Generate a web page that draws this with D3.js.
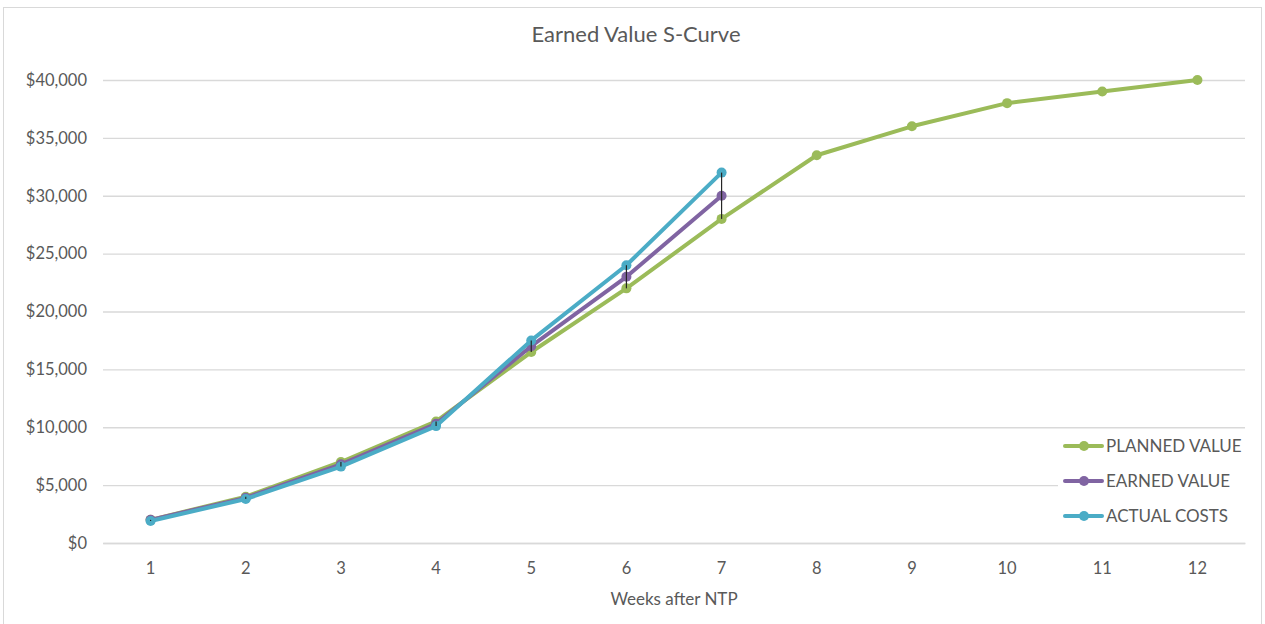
<!DOCTYPE html>
<html>
<head>
<meta charset="utf-8">
<script src="https://cdn.jsdelivr.net/npm/d3@7"></script>
<style>
  body { margin: 0; background: #fff; }
  text { font-family: Lato, "Open Sans", sans-serif; }
</style>
</head>
<body>
<div id="chart"></div>
<script>
// chart data
var weeks = [1, 2, 3, 4, 5, 6, 7, 8, 9, 10, 11, 12];
var plannedValue = [2000, 4000, 7000, 10500, 16500, 22000, 28000, 33500, 36000, 38000, 39000, 40000];
var earnedValue = [2000, 3900, 6800, 10300, 17000, 23000, 30000];
var actualCosts = [1900, 3800, 6600, 10100, 17500, 24000, 32000];
var yTicks = [0, 5000, 10000, 15000, 20000, 25000, 30000, 35000, 40000];
var seriesNames = ["PLANNED VALUE", "EARNED VALUE", "ACTUAL COSTS"];

var svgWidth = 1265;
var svgHeight = 624;
var plotLeft = 103, plotRight = 1245, plotTop = 80, plotBottom = 543;

var svg = d3.select("#chart")
  .append("svg")
  .attr("width", svgWidth)
  .attr("height", svgHeight);

// chart frame
svg.append("rect")
  .attr("x", 3.5)
  .attr("y", 7.5)
  .attr("width", 1258)
  .attr("height", 640)
  .attr("fill", "#fff")
  .attr("stroke", "#d9d9d9");

svg.append("text")
  .attr("x", 636)
  .attr("y", 42)
  .style("text-anchor", "middle")
  .style("font-size", "22px")
  .style("fill", "#595959")
  .text("Earned Value S-Curve");

var xscale = d3.scaleBand().domain(weeks).range([plotLeft, plotRight]);
var yscale = d3.scaleLinear().domain([0, 40000]).range([plotBottom, plotTop]);

var xpos = function (w) { return xscale(w) + xscale.bandwidth() / 2; };

// gridlines + y axis
var yaxis = d3.axisLeft(yscale)
  .tickValues(yTicks)
  .tickSize(-(plotRight - plotLeft))
  .tickPadding(16)
  .tickFormat(function (d) { return "$" + d3.format(",")(d); });

var gy = svg.append("g")
  .attr("transform", "translate(" + plotLeft + ",0)")
  .call(yaxis);
gy.select(".domain").remove();
gy.selectAll("line").attr("stroke", "#d9d9d9").attr("stroke-width", 1.3);
gy.selectAll("text")
  .style("font-size", "16.5px")
  .style("fill", "#595959")
  .style("font-family", "Lato, sans-serif");

// x axis
var xaxis = d3.axisBottom(xscale).tickSize(0).tickPadding(19);
var gx = svg.append("g")
  .attr("transform", "translate(0," + plotBottom + ")")
  .call(xaxis);
gx.select(".domain").attr("stroke", "#d9d9d9").attr("stroke-width", 1.3);
gx.selectAll("text")
  .style("font-size", "16.5px")
  .style("fill", "#595959")
  .style("font-family", "Lato, sans-serif");

svg.append("text")
  .attr("x", (plotLeft + plotRight) / 2)
  .attr("y", 605)
  .style("text-anchor", "middle")
  .style("font-size", "17px")
  .style("fill", "#595959")
  .text("Weeks after NTP");

var series = [
  { name: seriesNames[0], values: plannedValue, color: "#9bbb59" },
  { name: seriesNames[1], values: earnedValue, color: "#8064a2" },
  { name: seriesNames[2], values: actualCosts, color: "#4bacc6" }
];

var line = d3.line()
  .x(function (d, i) { return xpos(weeks[i]); })
  .y(function (d) { return yscale(d); });

series.forEach(function (s) {
  var g = svg.append("g");
  g.append("path")
    .attr("d", line(s.values))
    .attr("fill", "none")
    .attr("stroke", s.color)
    .attr("stroke-width", 4)
    .attr("stroke-linejoin", "round");
  g.selectAll("circle")
    .data(s.values)
    .enter()
    .append("circle")
    .attr("cx", function (d, i) { return xpos(weeks[i]); })
    .attr("cy", function (d) { return yscale(d); })
    .attr("r", 5)
    .attr("fill", s.color);
});

// high-low lines
var hilo = weeks.map(function (w, i) {
  var vals = series.map(function (s) { return s.values[i]; })
    .filter(function (v) { return v !== undefined; });
  return { w: w, hi: d3.max(vals), lo: d3.min(vals), n: vals.length };
}).filter(function (d) { return d.n > 1; });

svg.append("g")
  .selectAll("line")
  .data(hilo)
  .enter()
  .append("line")
  .attr("x1", function (d) { return xpos(d.w); })
  .attr("x2", function (d) { return xpos(d.w); })
  .attr("y1", function (d) { return yscale(d.hi); })
  .attr("y2", function (d) { return yscale(d.lo); })
  .attr("stroke", "#262626")
  .attr("stroke-width", 1.2);

// legend
var legend = svg.append("g");
legend.append("rect")
  .attr("x", 1058)
  .attr("y", 432)
  .attr("width", 190)
  .attr("height", 100)
  .attr("fill", "#fff");

var item = legend.selectAll(".item")
  .data(series)
  .enter()
  .append("g")
  .attr("transform", function (d, i) { return "translate(0," + (446 + i * 35) + ")"; });

item.append("line")
  .attr("x1", 1065)
  .attr("x2", 1102)
  .attr("stroke", function (d) { return d.color; })
  .attr("stroke-width", 4)
  .attr("stroke-linecap", "round");
item.append("circle")
  .attr("cx", 1084)
  .attr("r", 5)
  .attr("fill", function (d) { return d.color; });
item.append("text")
  .attr("x", 1106)
  .attr("dy", "0.36em")
  .style("font-size", "17px")
  .style("fill", "#595959")
  .text(function (d) { return d.name; });
</script>
</body>
</html>
